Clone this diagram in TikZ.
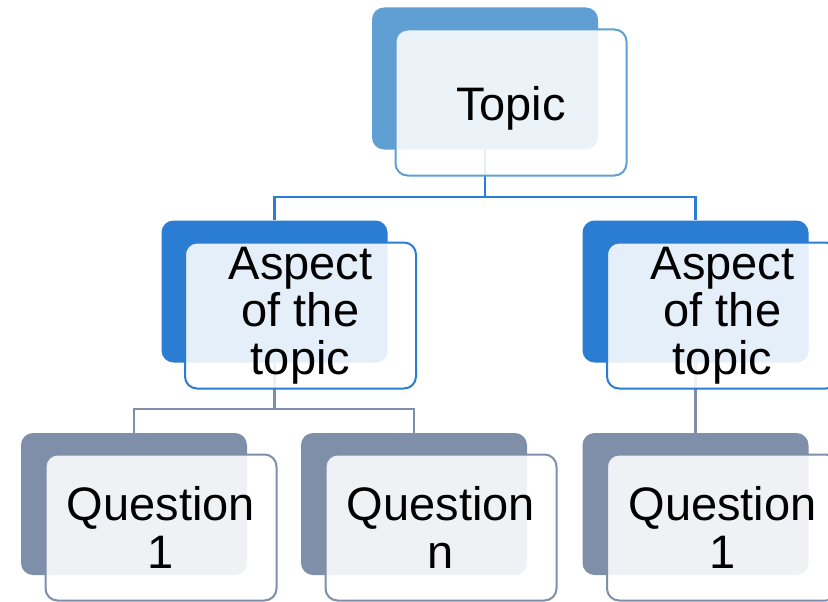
\documentclass[tikz,border=0pt]{standalone}
\usepackage{fontspec}
\setmainfont{Liberation Sans}
\definecolor{topicblue}{HTML}{5F9FD3}
\definecolor{aspectblue}{HTML}{2B7CD3}
\definecolor{questiongray}{HTML}{7F8FA9}
\begin{document}
\begin{tikzpicture}[x=1pt, y=-1pt,
    backbox/.style={rounded corners=12pt, minimum width=226pt, minimum height=142pt, inner sep=0pt},
    frontbox/.style={draw, line width=2pt, rounded corners=12pt, fill=white, fill opacity=0.88, text opacity=1,
      minimum width=231pt, minimum height=146pt, inner sep=0pt, align=center, font=\fontsize{47}{47.5}\selectfont},
    link/.style={line width=2.2pt}]
      \useasboundingbox (0,0) rectangle (828,602);
      \node[backbox, fill=topicblue]    (topicback) at (485,78.5) {};
      \node[backbox, fill=aspectblue]   (aspLback)  at (274.5,291.5) {};
      \node[backbox, fill=aspectblue]   (aspRback)  at (695.5,291.5) {};
      \node[backbox, fill=questiongray] (qLback)    at (134,504) {};
      \node[backbox, fill=questiongray] (qNback)    at (414,504) {};
      \node[backbox, fill=questiongray] (qRback)    at (695.5,504) {};
      \coordinate (topicjoin) at (485,197);
      \coordinate (aspLjoin)  at (274.5,409);
      \draw[link, aspectblue] (topicback.south) -- (topicjoin) -| (aspLback.north);
      \draw[link, aspectblue] (topicjoin) -| (aspRback.north);
      \draw[link, questiongray] (aspLback.south) -- (aspLjoin) -| (qLback.north);
      \draw[link, questiongray] (aspLjoin) -| (qNback.north);
      \draw[link, questiongray] (aspRback.south) -- (qRback.north);
      \node[frontbox, draw=topicblue]    (topic) at (511,102.5)   {\raisebox{-4pt}[34pt][6pt]{Topic}};
      \node[frontbox, draw=aspectblue]   (aspL)  at (300.5,315.5) {Aspect\\of the\\topic};
      \node[frontbox, draw=aspectblue]   (aspR)  at (722.5,315.5) {Aspect\\of the\\topic};
      \node[frontbox, draw=questiongray] (qL)    at (161,527.5)   {Question\\1};
      \node[frontbox, draw=questiongray] (qN)    at (441,527.5)   {Question\\n};
      \node[frontbox, draw=questiongray] (qR)    at (722.5,527.5) {Question\\1};
\end{tikzpicture}
\end{document}
